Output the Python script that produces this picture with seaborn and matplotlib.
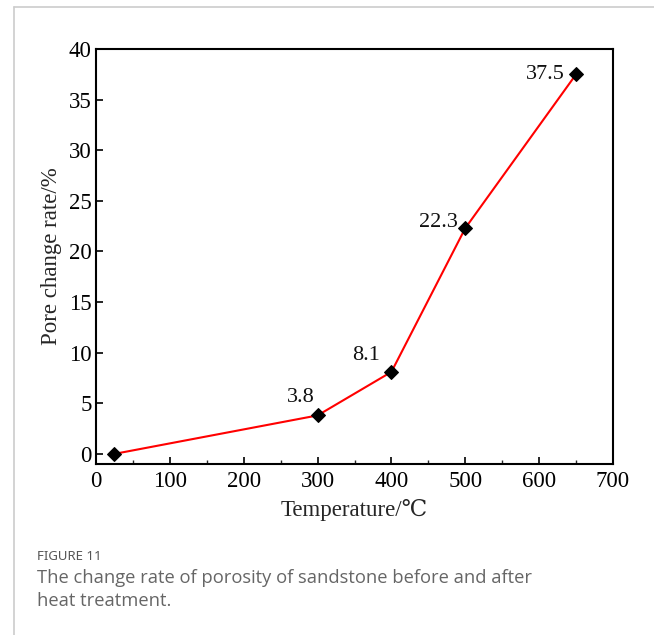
import matplotlib
matplotlib.use("Agg")
import matplotlib.pyplot as plt
from matplotlib.lines import Line2D
from matplotlib.ticker import MultipleLocator
import seaborn as sns
import pandas as pd

# Porosity change rate versus treatment temperature
temperature = [25, 300, 400, 500, 650]
pore_change = [0.0, 3.8, 8.1, 22.3, 37.5]
value_labels = ["", "3.8", "8.1", "22.3", "37.5"]
x_ticks = [0, 100, 200, 300, 400, 500, 600, 700]
y_ticks = [0, 5, 10, 15, 20, 25, 30, 35, 40]

df = pd.DataFrame({"Temperature": temperature, "Pore": pore_change})

sns.set_theme(style="ticks")
plt.rcParams["font.family"] = ["Liberation Serif", "DejaVu Serif"]

fig = plt.figure(figsize=(6.54, 6.35), dpi=100)
ax = fig.add_axes([96 / 654, 1 - 464 / 635, (613 - 96) / 654, (464 - 49) / 635])

sns.lineplot(data=df, x="Temperature", y="Pore", ax=ax, color="#ff0000",
             linewidth=1.5, marker="D", markersize=7, markerfacecolor="black",
             markeredgecolor="black")

offsets = {"3.8": (-12, 13), "8.1": (-18, 12), "22.3": (-19, 4), "37.5": (-22, 0)}
for x, y, lab in zip(temperature, pore_change, value_labels):
    if lab:
        dx, dy = offsets[lab]
        ax.annotate(lab, (x, y), xytext=(dx, dy), textcoords="offset points",
                    ha="center", va="center", fontsize=16, color="#111111")

ax.set_xlim(0, 700)
ax.set_ylim(-1, 40)
ax.set_xticks(x_ticks)
ax.set_yticks(y_ticks)
ax.xaxis.set_minor_locator(MultipleLocator(50))
ax.tick_params(axis="both", which="major", direction="in", length=5, width=1.2,
               labelsize=16.5, colors="black", top=False, right=False, pad=3)
ax.tick_params(axis="x", which="major", pad=5)
ax.tick_params(axis="x", which="minor", direction="in", length=3, width=1.0,
               top=False)
for s in ax.spines.values():
    s.set_linewidth(1.5)
    s.set_color("black")
ax.set_xlabel("Temperature/\u2103", fontsize=16.5, labelpad=5)
ax.set_ylabel("Pore change rate/%", fontsize=16.5, labelpad=5)

# Page frame and caption
fig.add_artist(Line2D([14 / 654, 1], [1 - 7 / 635, 1 - 7 / 635],
                      transform=fig.transFigure, color="#cccccc", lw=1.2))
fig.add_artist(Line2D([14 / 654, 14 / 654], [0, 1 - 7 / 635],
                      transform=fig.transFigure, color="#cccccc", lw=1.2))
fig.text(37 / 654, 1 - 557 / 635, "FIGURE 11", family="Noto Sans",
         fontsize=9.5, fontweight="semibold", color="#555555", va="center", ha="left")
fig.text(37 / 654, 1 - 578 / 635, "The change rate of porosity of sandstone before and after",
         family="Open Sans", fontsize=13.2, color="#666666", va="center", ha="left")
fig.text(37 / 654, 1 - 601 / 635, "heat treatment.",
         family="Open Sans", fontsize=13.2, color="#666666", va="center", ha="left")

fig.savefig("out.png", dpi=100, facecolor="white")
